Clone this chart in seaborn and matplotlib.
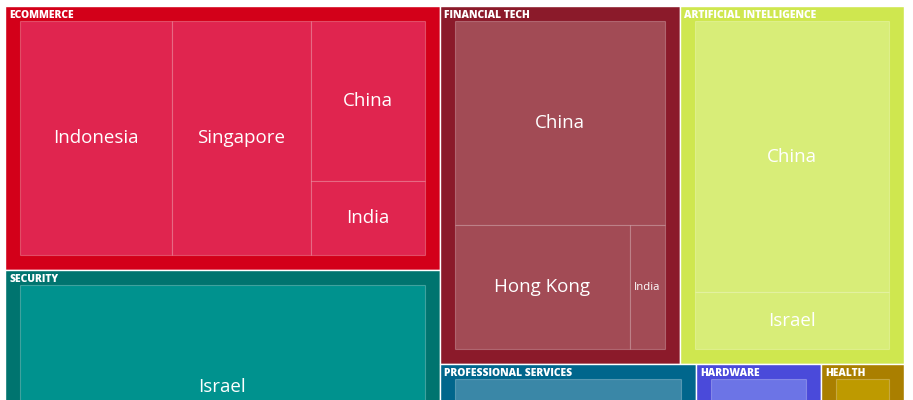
import matplotlib
matplotlib.use("Agg")
import matplotlib.pyplot as plt
from matplotlib.patches import Rectangle
import seaborn as sns

# -------- DATA (area values) --------
sectors = ["Ecommerce", "Security", "Financial Tech", "Artificial Intelligence",
           "Professional Services", "Hardware", "Health"]

ecommerce_countries = ["Indonesia", "Singapore", "China", "India"]
ecommerce_values = [43.1, 39.4, 22.1, 10.3]

security_countries = ["Israel"]
security_values = [101.4]

fintech_countries = ["China", "Hong Kong", "India"]
fintech_values = [53.6, 27.1, 5.45]

ai_countries = ["China", "Israel"]
ai_values = [66.4, 14.0]

services_countries = ["India"]
services_values = [35.6]

hardware_countries = ["China"]
hardware_values = [17.4]

health_countries = ["China"]
health_values = [11.5]

children = [
    (ecommerce_countries, ecommerce_values),
    (security_countries, security_values),
    (fintech_countries, fintech_values),
    (ai_countries, ai_values),
    (services_countries, services_values),
    (hardware_countries, hardware_values),
    (health_countries, health_values),
]

# -------- STYLE --------
parent_colors = ["#D30019", "#00746F", "#8B1A2A", "#CFE74F", "#00668C", "#4A4ADA", "#AA7F00"]
child_colors = ["#E0254F", "#00928E", "#A24B55", "#D8ED78", "#3A87A7", "#6C74E6", "#BE9A00"]


def worst(row, side):
    s = sum(row)
    return max(max(side * side * r / (s * s), (s * s) / (side * side * r)) for r in row)


def squarify(values, x, y, w, h):
    total = sum(values)
    areas = [v * w * h / total for v in values]
    rects = []
    i = 0
    while i < len(areas):
        side = min(w, h)
        row = [areas[i]]
        j = i + 1
        while j < len(areas) and worst(row + [areas[j]], side) <= worst(row, side):
            row.append(areas[j])
            j += 1
        s = sum(row)
        if w >= h:
            cw = s / h
            yy = y
            for a in row:
                rects.append((x, yy, cw, a / cw))
                yy += a / cw
            x += cw
            w -= cw
        else:
            rh = s / w
            xx = x
            for a in row:
                rects.append((xx, y, a / rh, rh))
                xx += a / rh
            y += rh
            h -= rh
        i = j
    return rects


sns.set_theme(style="white")
plt.rcParams['font.family'] = ['Open Sans', 'DejaVu Sans']

fig = plt.figure(figsize=(9.13, 4.0), dpi=100)
ax = fig.add_axes([0, 0, 1, 1])
ax.set_xlim(0, 913)
ax.set_ylim(400, 0)
ax.axis("off")

pad = 15
parent_totals = [sum(v) for _, v in children]
parent_rects = squarify(parent_totals, 5, 6, 899, 497)

fig.canvas.draw()
renderer = fig.canvas.get_renderer()

for k, (px, py, pw, ph) in enumerate(parent_rects):
    ax.add_patch(Rectangle((px, py), pw, ph, facecolor=parent_colors[k],
                           edgecolor="white", linewidth=1.0))
    ax.text(px + 4, py + 11.5, sectors[k].upper(), color="white", fontsize=7.4,
            fontweight="heavy", ha="left", va="baseline")
    names, vals = children[k]
    inner = squarify(vals, px + pad, py + pad, pw - 2 * pad, ph - 2 * pad)
    for name, (cx, cy, cw, chh) in zip(names, inner):
        ax.add_patch(Rectangle((cx, cy), cw, chh, facecolor=child_colors[k],
                               edgecolor=(1, 1, 1, 0.25), linewidth=0.8))
        mx, my = cx + cw / 2, cy + chh / 2
        if my > 400:
            continue
        t = ax.text(mx, my, name, color="white", fontsize=13.5,
                    ha="center", va="center")
        tw = t.get_window_extent(renderer).width
        if tw > cw - 8:
            t.set_fontsize(13.5 * (cw - 9) / tw)

fig.savefig("out.png", dpi=100)
